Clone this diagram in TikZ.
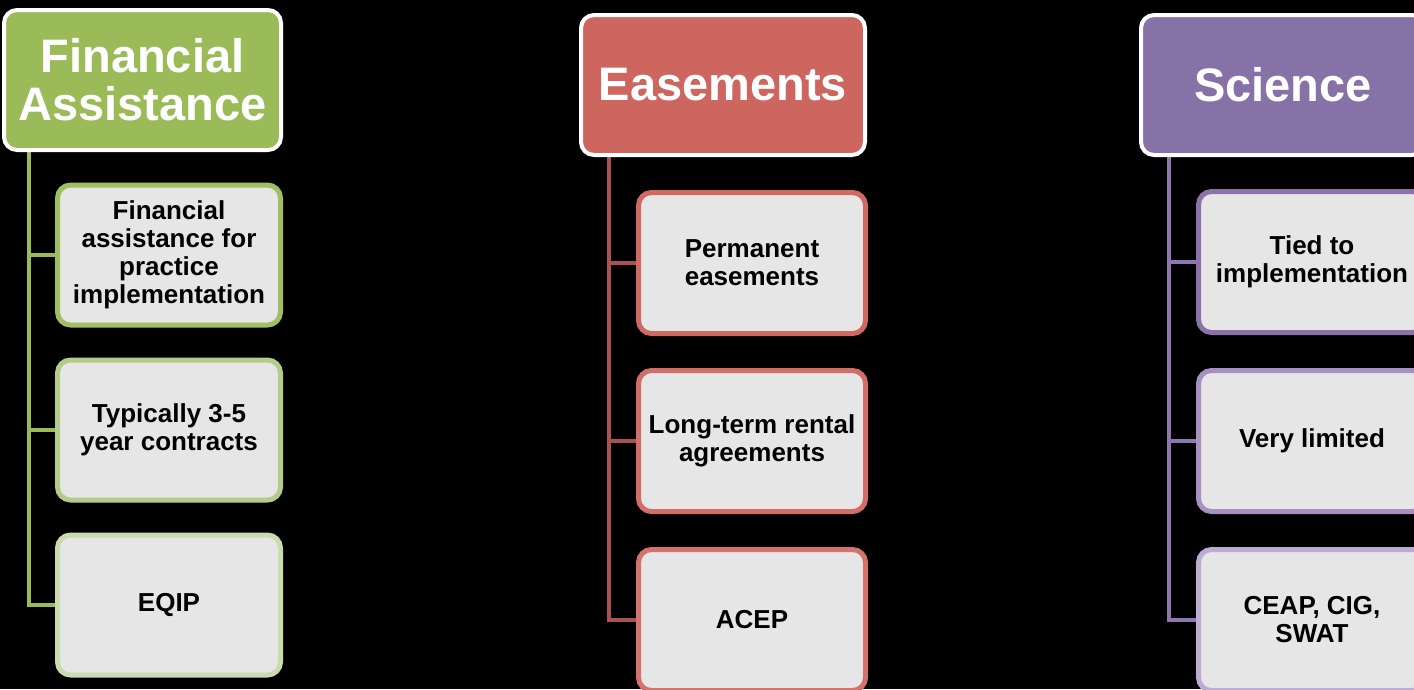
\documentclass[tikz,border=0pt]{standalone}
\usepackage{fontspec}
\setmainfont{Liberation Sans}
\usetikzlibrary{backgrounds}
\definecolor{itemfill}{HTML}{E6E6E6}
\definecolor{gH}{HTML}{9BBB59}
\definecolor{gL}{HTML}{9BBB59}
\definecolor{g1}{HTML}{A0BE62}
\definecolor{g2}{HTML}{B4CC8A}
\definecolor{g3}{HTML}{CADBAE}
\definecolor{rH}{HTML}{CC665E}
\definecolor{rL}{HTML}{A8534D}
\definecolor{r1}{HTML}{CF6A62}
\definecolor{r2}{HTML}{D16E67}
\definecolor{r3}{HTML}{D3736C}
\definecolor{pH}{HTML}{8672A6}
\definecolor{pL}{HTML}{8E76AE}
\definecolor{p1}{HTML}{8B72A9}
\definecolor{p2}{HTML}{A590BF}
\definecolor{p3}{HTML}{BDACD2}
\begin{document}
\begin{tikzpicture}[x=1pt,y=-1pt,
  hdr/.style={draw=white, line width=4pt, rounded corners=13pt, text=white,
    font=\fontsize{47}{48}\selectfont\bfseries, align=center, inner sep=0pt,
    minimum height=140pt},
  item/.style={fill=itemfill, line width=5pt, rounded corners=13pt,
    font=\fontsize{26}{28}\selectfont\bfseries, align=center, inner sep=0pt,
    text=black, minimum height=140pt},
  link/.style={line width=4.5pt}]
\useasboundingbox (0,0) rectangle (1414,689);
% left column
\node[hdr, fill=gH, minimum width=277pt] (hL) at (142.5,80) {Financial\\Assistance};
\node[item, draw=g1, minimum width=223pt] (l1) at (169,255) {Financial\\assistance for\\practice\\implementation};
\node[item, draw=g2, minimum width=223pt] (l2) at (169,430) {Typically 3-5\\year contracts};
\node[item, draw=g3, minimum width=223pt] (l3) at (169,605) {EQIP};
% middle column
\node[hdr, fill=rH, minimum width=284pt] (hM) at (723,85) {Easements};
\node[item, draw=r1, minimum width=227pt, minimum height=141pt] (m1) at (752,263) {Permanent\\easements};
\node[item, draw=r2, minimum width=227pt, minimum height=141pt] (m2) at (752,441) {Long-term rental\\agreements};
\node[item, draw=r3, minimum width=227pt, minimum height=141pt] (m3) at (752,620) {ACEP};
% right column
\node[hdr, fill=pH, minimum width=284pt] (hR) at (1283,85) {Science};
\node[item, draw=p1, minimum width=227pt, minimum height=141pt] (s1) at (1312,262) {Tied to\\implementation};
\node[item, draw=p2, minimum width=227pt, minimum height=141pt] (s2) at (1312,441) {Very limited};
\node[item, draw=p3, minimum width=227pt, minimum height=141pt] (s3) at (1312,620) {CEAP, CIG,\\SWAT};
\coordinate (aL) at (29,150);
\coordinate (aM) at (609,155);
\coordinate (aR) at (1169,155);
\begin{scope}[on background layer]
\fill[black] (0,0) rectangle (1414,689);
\draw[link, draw=gL] (aL) |- (l1.west);
\draw[link, draw=gL] (aL) |- (l2.west);
\draw[link, draw=gL] (aL) |- (l3.west);
\draw[link, draw=rL] (aM) |- (m1.west);
\draw[link, draw=rL] (aM) |- (m2.west);
\draw[link, draw=rL] (aM) |- (m3.west);
\draw[link, draw=pL] (aR) |- (s1.west);
\draw[link, draw=pL] (aR) |- (s2.west);
\draw[link, draw=pL] (aR) |- (s3.west);
\end{scope}
\end{tikzpicture}
\end{document}
